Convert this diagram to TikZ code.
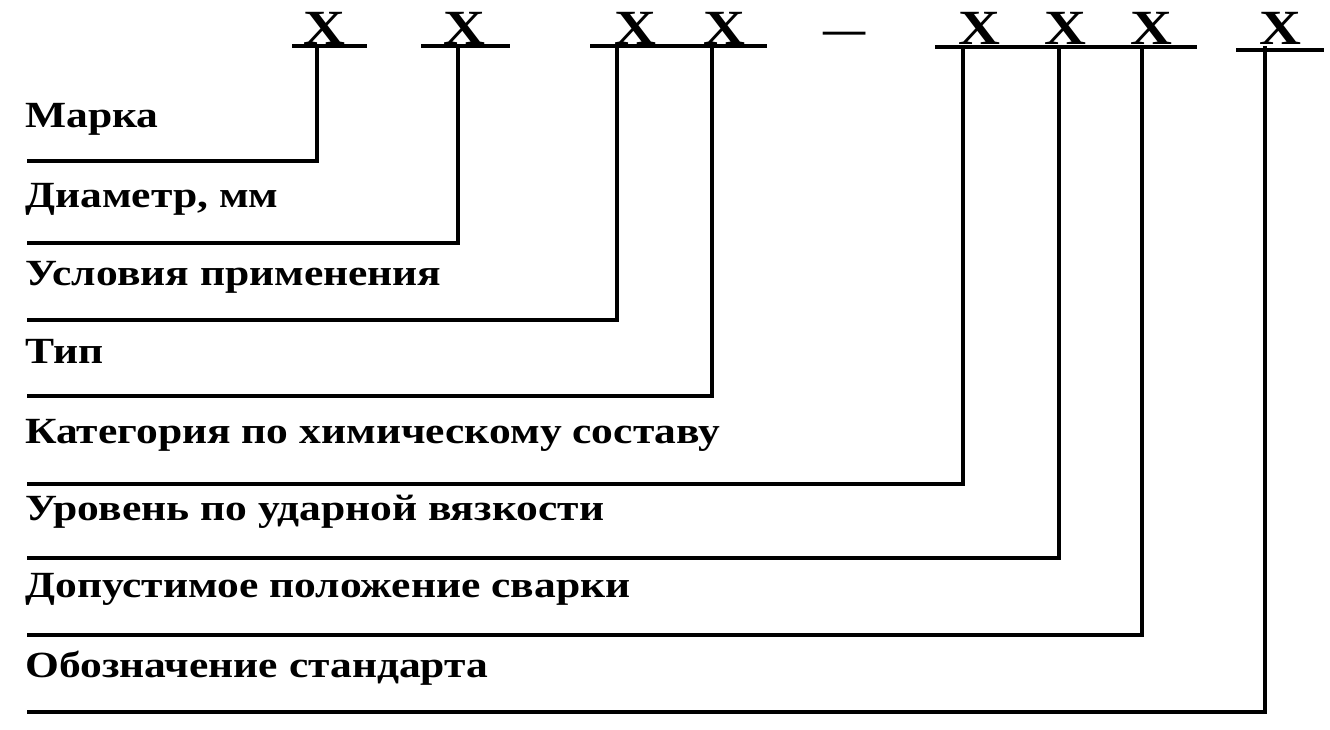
\documentclass[tikz,border=0pt]{standalone}
\usepackage{fontspec}
\setmainfont{Liberation Serif}
\newfontfamily\widefont[FakeStretch=1.18]{Liberation Serif}
\usetikzlibrary{positioning,calc}
\tikzset{
  lbl/.style={anchor=base west, inner sep=0pt, font=\widefont\bfseries\fontsize{21}{24}\selectfont},
  sym/.style={anchor=base, inner sep=0pt, font=\widefont\bfseries\fontsize{28}{31}\selectfont},
  ln/.style={line width=1.9pt}}

\begin{document}
\begin{tikzpicture}[x=0.02cm, y=-0.02cm]
\useasboundingbox (0,0) rectangle (1330,730);
% the code letters and their underlines
\foreach \cx/\vx [count=\i] in {324/317,464/458,635/617,724/712,979/963,1065/1059,1151/1142,1280/1265} {
  \node[sym] (x\i) at (\cx,45) {X};
  \coordinate (t\i) at (\vx,46);}
\node[sym, font=\bfseries\fontsize{24}{28}\selectfont] (dash) at (845,43) {—};
\foreach \xa/\xb/\yy in {292/367/46, 421/510/46, 590/767/46, 935/1197/47, 1236/1324/50}
  \draw[ln] (\xa,\yy) -- (\xb,\yy);
% the fields
\foreach \t/\b/\ly [count=\i] in {Марка/127/161, {Диаметр, мм}/207/243, Условия применения/285/320,
    Тип/363/396, Категория по химическому составу/443/484, Уровень по ударной вязкости/520/558,
    Допустимое положение сварки/597/635, Обозначение стандарта/677/712} {
  \node[lbl] (l\i) at (25,\b) {\t};
  \coordinate (f\i) at (27,\ly);
  \draw[ln] (f\i) -| (t\i);}
\end{tikzpicture}
\end{document}
